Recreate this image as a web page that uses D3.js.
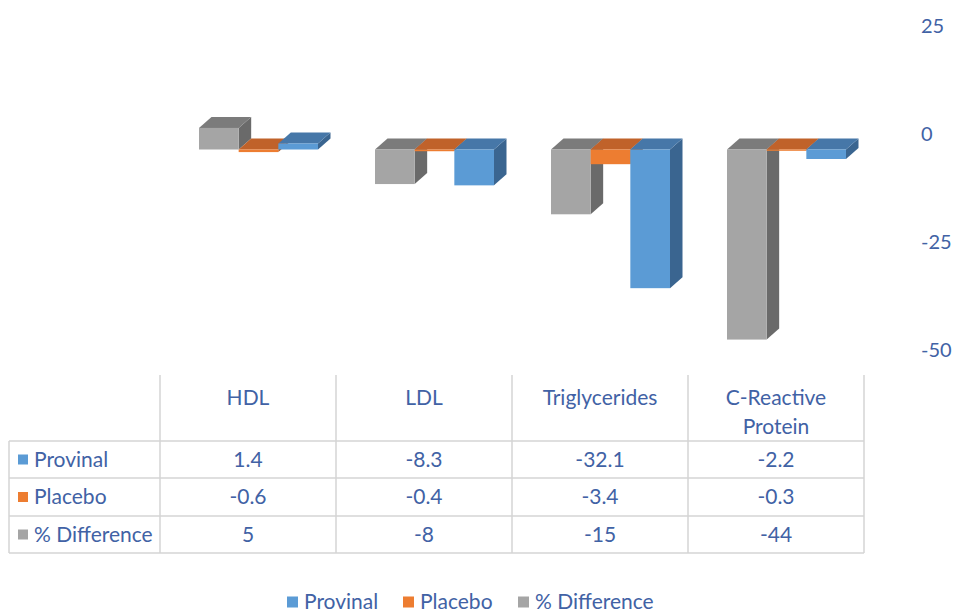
<!DOCTYPE html>
<html><head><meta charset="utf-8">
<script src="https://cdn.jsdelivr.net/npm/d3@7/dist/d3.min.js"></script>
<style>body{margin:0;background:#fff}svg{display:block}</style>
</head><body>
<script>
const categories = ["HDL", "LDL", "Triglycerides", "C-Reactive Protein"];
const headerLines = [["HDL"], ["LDL"], ["Triglycerides"], ["C-Reactive", "Protein"]];
const provinal = [1.4, -8.3, -32.1, -2.2];
const placebo = [-0.6, -0.4, -3.4, -0.3];
const pctDifference = [5, -8, -15, -44];
const seriesNames = ["Provinal", "Placebo", "% Difference"];
const yTicks = [25, 0, -25, -50];

const series = [
  {name: "Provinal", values: provinal, front: "#5B9BD5", top: "#4677A8", side: "#3A6590"},
  {name: "Placebo", values: placebo, front: "#ED7D31", top: "#C0622A", side: "#A9551F"},
  {name: "% Difference", values: pctDifference, front: "#A5A5A5", top: "#7B7B7B", side: "#6A6A6A"}
];
const drawOrder = ["% Difference", "Placebo", "Provinal"];
const textColor = "#4162A5";
const font = "Lato, 'Open Sans', sans-serif";
const fs = "21px";

const W = 953, H = 615;
const svg = d3.select("body").append("svg").attr("width", W).attr("height", H);

const x0 = d3.scaleBand().domain(categories).range([160, 864]);
const x1 = d3.scaleBand().domain(drawOrder).range([39, 158]);
const y = d3.scaleLinear().domain([-50, 25]).range([349, 25]);
const frontOff = 16.5, dx = 12.5, dy = -11;

// bars
const gBars = svg.append("g");
categories.forEach((c, ci) => {
  drawOrder.forEach(sn => {
    const s = series.find(d => d.name === sn);
    const v = s.values[ci];
    const xl = x0(c) + x1(sn), xr = xl + x1.bandwidth();
    const yv = y(v) + frontOff, y0 = y(0) + frontOff;
    const yt = Math.min(yv, y0), yb = Math.max(yv, y0);
    gBars.append("path").attr("fill", s.side)
      .attr("d", `M${xr},${yt}L${xr+dx},${yt+dy}L${xr+dx},${yb+dy}L${xr},${yb}Z`);
    gBars.append("path").attr("fill", s.top)
      .attr("d", `M${xl},${yt}L${xl+dx},${yt+dy}L${xr+dx},${yt+dy}L${xr},${yt}Z`);
    gBars.append("rect").attr("fill", s.front)
      .attr("x", xl).attr("y", yt).attr("width", xr - xl).attr("height", Math.max(yb - yt, 0.5));
  });
});

// y axis labels (right)
const axis = d3.axisRight(y).tickValues(yTicks).tickSize(0).tickPadding(0).tickFormat(d => String(d));
const gAxis = svg.append("g").attr("transform", "translate(921,0)").call(axis);
gAxis.select(".domain").remove();
gAxis.selectAll("text").attr("fill", textColor).style("font-family", font).style("font-size", "20px")
  .attr("text-anchor", "start").attr("dy", "0.35em");

// data table
const gridColor = "#D4D4D4";
const rowY = [441, 478, 516, 553];
const colX = [9, 160, 336, 512, 688, 864];
const gT = svg.append("g");
rowY.forEach(yy => gT.append("line").attr("x1", 9).attr("x2", 864).attr("y1", yy).attr("y2", yy)
  .attr("stroke", gridColor).attr("stroke-width", 1.5));
colX.forEach((xx, i) => {
  const top = i === 0 ? 441 : 375;
  gT.append("line").attr("x1", xx).attr("x2", xx).attr("y1", top).attr("y2", 553)
    .attr("stroke", gridColor).attr("stroke-width", 1.5);
});
categories.forEach((c, ci) => {
  const cx = x0(c) + x0.bandwidth() / 2;
  headerLines[ci].forEach((ln, li) => {
    gT.append("text").attr("x", cx).attr("y", 398 + li * 29).attr("dy", "0.35em")
      .attr("text-anchor", "middle").attr("fill", textColor)
      .style("font-family", font).style("font-size", fs).text(ln);
  });
});
series.forEach((s, si) => {
  const cy = (rowY[si] + rowY[si + 1]) / 2;
  gT.append("rect").attr("x", 18).attr("y", cy - 5).attr("width", 10).attr("height", 10).attr("fill", s.front);
  gT.append("text").attr("x", 34).attr("y", cy).attr("dy", "0.35em").attr("fill", textColor)
    .style("font-family", font).style("font-size", fs).text(s.name);
  s.values.forEach((v, ci) => {
    gT.append("text").attr("x", x0(categories[ci]) + x0.bandwidth() / 2).attr("y", cy).attr("dy", "0.35em")
      .attr("text-anchor", "middle").attr("fill", textColor)
      .style("font-family", font).style("font-size", fs).text(String(v));
  });
});

// legend
const legendX = [287, 403, 518];
const gL = svg.append("g");
series.forEach((s, i) => {
  gL.append("rect").attr("x", legendX[i]).attr("y", 596.5).attr("width", 11).attr("height", 11).attr("fill", s.front);
  gL.append("text").attr("x", legendX[i] + 17).attr("y", 602).attr("dy", "0.35em").attr("fill", textColor)
    .style("font-family", font).style("font-size", fs).text(s.name);
});
</script>
</body></html>
